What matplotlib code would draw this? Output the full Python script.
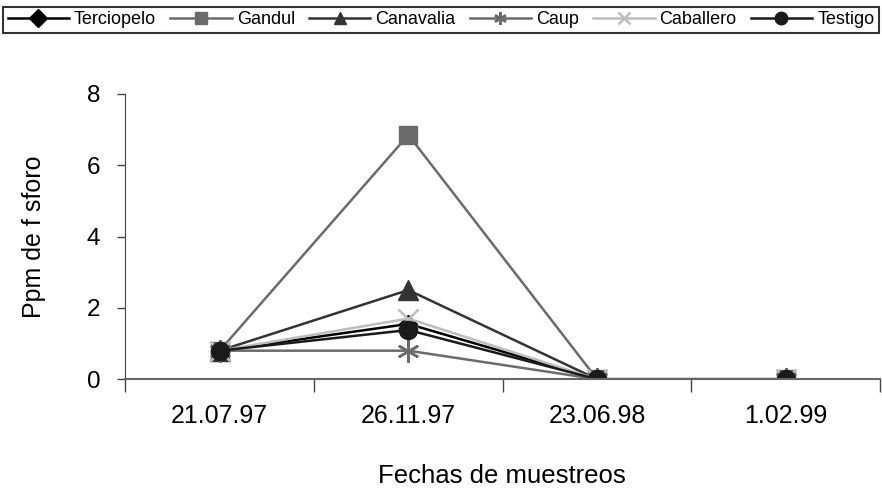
import matplotlib.pyplot as plt
from matplotlib.ticker import FixedLocator, NullFormatter

plt.rcParams['font.family'] = ['Liberation Sans', 'DejaVu Sans']

fechas = ['21.07.97', '26.11.97', '23.06.98', '1.02.99']
terciopelo = [0.8, 1.55, 0.0, 0.0]
gandul = [0.8, 6.85, 0.0, 0.0]
canavalia = [0.8, 2.5, 0.0, 0.0]
caup = [0.8, 0.8, 0.0, 0.0]
caballero = [0.8, 1.7, 0.0, 0.0]
testigo = [0.8, 1.38, 0.0, 0.0]

series = [
    ('Terciopelo', terciopelo, '#000000', 'D', 9),
    ('Gandul', gandul, '#6b6b6b', 's', 13),
    ('Canavalia', canavalia, '#333333', '^', 14),
    ('Caup', caup, '#6b6b6b', (6, 2, 0), 16),
    ('Caballero', caballero, '#bdbdbd', 'x', 14),
    ('Testigo', testigo, '#1a1a1a', 'o', 13),
]

fig = plt.figure(figsize=(8.82, 4.97), dpi=100)
ax = fig.add_axes([0.142, 0.237, 0.856, 0.574])

x = list(range(len(fechas)))
for name, vals, col, mk, ms in series:
    ax.plot(x, vals, color=col, marker=mk, markersize=ms, linewidth=1.8,
            markeredgewidth=1.8 if mk in ('x', (6, 2, 0)) else 1,
            markeredgecolor=col, markerfacecolor=col, label=name)

ax.set_xlim(-0.5, len(fechas) - 0.5)
ax.set_ylim(0, 8)
ax.set_yticks([0, 2, 4, 6, 8])
ax.set_xticks(x)
ax.set_xticklabels(fechas)
ax.xaxis.set_minor_locator(FixedLocator([i - 0.5 for i in range(len(fechas) + 1)]))
ax.xaxis.set_minor_formatter(NullFormatter())
ax.tick_params(axis='x', which='major', length=0, pad=18, labelsize=18)
ax.tick_params(axis='x', which='minor', length=9, width=1, color='#444444', direction='out')
ax.tick_params(axis='y', length=6, width=1, labelsize=17.5, pad=12, color='#444444')
ax.spines['top'].set_visible(False)
ax.spines['right'].set_visible(False)
ax.spines['left'].set_color('#444444')
ax.spines['bottom'].set_color('#666666')
ax.spines['bottom'].set_linewidth(1.5)
ax.set_ylabel('Ppm de f sforo', fontsize=18)
ax.yaxis.set_label_coords(-0.105, 0.5)
fig.text(0.569, 0.028, 'Fechas de muestreos', fontsize=18.5, ha='center', va='baseline')

leg = fig.legend(loc='upper center', bbox_to_anchor=(0.5, 0.986), ncol=6,
                 fontsize=13, frameon=True, fancybox=False, handlelength=3.4,
                 handletextpad=0.28, columnspacing=0.78, borderpad=0.25,
                 borderaxespad=0.0)
leg.get_frame().set_edgecolor('black')
leg.get_frame().set_linewidth(1.5)
for h in leg.legend_handles:
    h.set_markersize(9)

fig.savefig('out.png', dpi=100)
